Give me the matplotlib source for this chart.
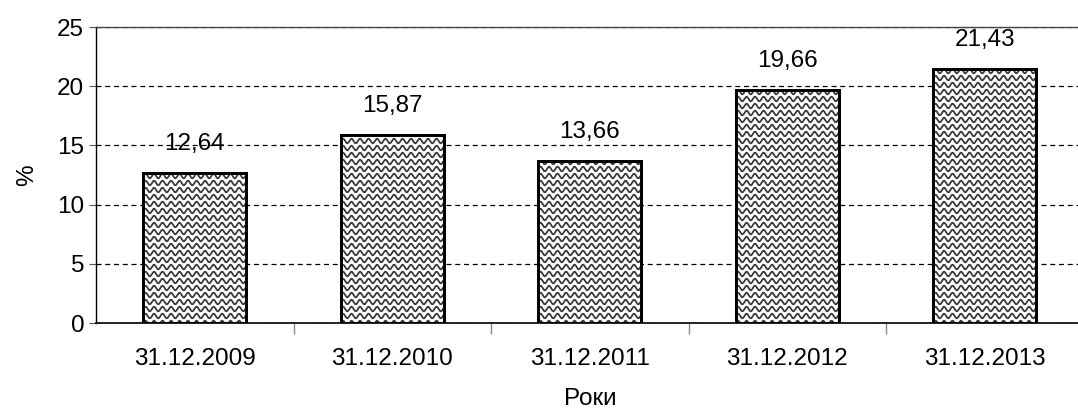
import numpy as np
import matplotlib.pyplot as plt

plt.rcParams['font.family'] = ['Liberation Sans', 'DejaVu Sans']

# data
dates = ['31.12.2009', '31.12.2010', '31.12.2011', '31.12.2012', '31.12.2013']
values = [12.64, 15.87, 13.66, 19.66, 21.43]
labels = ['12,64', '15,87', '13,66', '19,66', '21,43']

fig = plt.figure(figsize=(10.78, 4.09), dpi=100)
W, H = 1078, 409
ax = fig.add_axes([96 / W, (H - 323) / H, 987.5 / W, 296 / H])

x = np.arange(len(dates))
bars = ax.bar(x, values, width=0.52, color='white', edgecolor='black',
              linewidth=2, zorder=3)

ax.set_xlim(-0.5, len(dates) - 0.5)
ax.set_ylim(0, 25)
ax.set_yticks(range(0, 26, 5))
ax.set_xticks(x)
ax.set_xticklabels(dates, fontsize=17.5)
ax.tick_params(axis='y', labelsize=17.5, length=5, color='#555555', direction='out')
ax.tick_params(axis='x', length=0, pad=18)
# ticks between categories
ax.set_xticks(np.arange(0.5, len(dates) - 0.5, 1), minor=True)
ax.tick_params(axis='x', which='minor', length=8, color='#888888', width=1)

ax.grid(axis='y', linestyle=(0, (4, 3)), color='black', linewidth=0.9, zorder=0)
ax.spines['right'].set_visible(False)
ax.spines['top'].set_color('#444444')
ax.spines['top'].set_linewidth(1)
ax.spines['left'].set_linewidth(1)
ax.spines['bottom'].set_linewidth(1.2)

ax.set_ylabel('%', fontsize=17.5, labelpad=14)
ax.set_xlabel('Роки', fontsize=17.5, labelpad=13)

# wavy fill pattern, clipped to each bar
fig.canvas.draw()
inv = ax.transData.inverted()
period, spacing, amp = 8.5, 7.0, 2.3  # pixels
for b in bars:
    (px0, py0), (px1, py1) = ax.transData.transform(
        [(b.get_x(), 0), (b.get_x() + b.get_width(), b.get_height())])
    xs = np.linspace(px0 - period, px1 + period, 400)
    for yb in np.arange(py0, py1 + spacing, spacing):
        ys = yb + amp * np.sin(2 * np.pi * (xs - px0) / period)
        pts = inv.transform(np.column_stack([xs, ys]))
        ln, = ax.plot(pts[:, 0], pts[:, 1], color='#3a3a3a', lw=1.3, zorder=3.5)
        ln.set_clip_path(b)

for b, lab in zip(bars, labels):
    ax.annotate(lab, (b.get_x() + b.get_width() / 2, b.get_height()),
                xytext=(0, 13), textcoords='offset points',
                ha='center', va='bottom', fontsize=17.5, zorder=5)

# redraw edges on top of pattern
ax.bar(x, values, width=0.52, color='none', edgecolor='black', linewidth=2, zorder=4)

fig.savefig('out.png', dpi=100)
